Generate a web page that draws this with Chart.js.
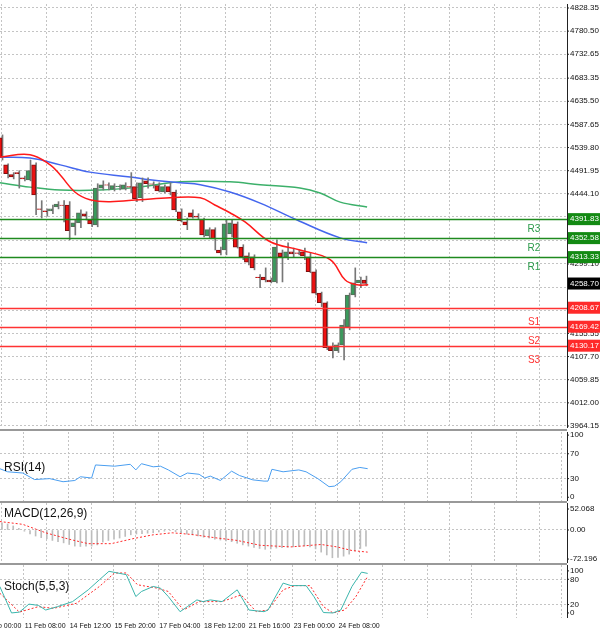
<!DOCTYPE html>
<html><head><meta charset="utf-8">
<script src="https://cdn.jsdelivr.net/npm/chart.js@4.4.0/dist/chart.umd.min.js"></script>
<style>
html,body{margin:0;padding:0;background:#fff;width:600px;height:635px;overflow:hidden;position:relative;font-family:"Liberation Sans",Arial,sans-serif}
.p{position:absolute;left:0;width:600px}
.sep{position:absolute;left:0;width:567px;height:2px;background:#999}
</style></head><body>
<div class="p" style="top:4px;height:424px"><canvas id="cMain"></canvas></div>
<div class="sep" style="top:429px"></div>
<div class="p" style="top:432px;height:69px"><canvas id="cRsi"></canvas></div>
<div class="sep" style="top:501px"></div>
<div class="p" style="top:503px;height:60px"><canvas id="cMacd"></canvas></div>
<div class="sep" style="top:563px"></div>
<div class="p" style="top:565px;height:70px"><canvas id="cSto"></canvas></div>
<script>
// ---- DATA ----
const opens  = [4560,4504,4484,4488,4477,4473,4504,4413,4409,4409,4417,4421,4421,4376,4384,4403,4390,4380,4456,4463,4454,4459,4454,4459,4459,4436,4471,4465,4461,4448,4459,4448,4407,4386,4405,4398,4392,4357,4370,4328,4328,4361,4382,4334,4316,4314,4272,4272,4266,4262,4322,4314,4324,4322,4324,4314,4283,4239,4219,4128,4120,4132,4169,4235,4260,4266];
const highs  = [4566,4506,4488,4492,4481,4514,4508,4430,4413,4421,4428,4430,4428,4390,4411,4407,4398,4465,4471,4467,4465,4463,4467,4488,4467,4477,4477,4469,4467,4463,4467,4452,4413,4394,4411,4403,4394,4374,4374,4334,4390,4390,4386,4339,4322,4318,4277,4291,4270,4349,4328,4343,4332,4328,4332,4322,4287,4241,4221,4136,4136,4184,4239,4291,4272,4274];
const lows   = [4514,4477,4475,4456,4471,4471,4401,4394,4398,4403,4413,4386,4349,4359,4374,4390,4376,4376,4452,4452,4450,4452,4452,4446,4428,4428,4456,4456,4448,4446,4442,4407,4386,4370,4394,4392,4355,4353,4328,4318,4318,4355,4332,4308,4297,4287,4250,4262,4260,4260,4262,4308,4314,4318,4308,4281,4235,4211,4122,4105,4116,4101,4163,4231,4250,4254];
const closes = [4520,4486,4479,4486,4475,4492,4442,4412,4407,4413,4423,4420,4368,4384,4405,4398,4382,4456,4463,4462,4461,4460,4463,4458,4434,4467,4465,4464,4450,4459,4448,4411,4388,4380,4396,4396,4359,4370,4351,4322,4382,4384,4334,4314,4303,4291,4271,4266,4262,4334,4314,4324,4320,4321,4316,4283,4239,4219,4126,4120,4132,4173,4235,4260,4266,4259];
const maRedX  = [-0.4,5,8.6,10.4,13,15.7,19.3,24.6,30,35.4,38,40.7,43.4,47.9,53.2,58.6,61.3,63.4,65.4];
const maRedY  = [4520,4525,4504,4483,4448,4432,4428,4432,4436,4436,4421,4405,4386,4345,4328,4308,4266,4256,4256];
const maBlueX = [-0.4,5,10.4,15.7,22.9,26.4,31.8,35.4,40.7,46.1,52.7,60.4,65.2];
const maBlueY = [4520,4518,4504,4489,4479,4473,4467,4463,4448,4425,4390,4353,4343];
const maGrnX  = [-0.4,5,10.4,17.5,24.6,31.8,40.7,46.1,53.2,56.8,60.4,65.2];
const maGrnY  = [4467,4458,4452,4452,4458,4469,4469,4463,4456,4446,4427,4417];
const levelNames  = ["R3","R2","R1","S1","S2","S3"];
const levelValues = [4391.83,4352.58,4313.33,4208.67,4169.42,4130.17];
const lastPrice = 4258.70;
const priceTicks = [3964.15,4012.00,4059.85,4107.70,4155.55,4203.40,4251.25,4299.10,4346.95,4396.80,4444.10,4491.95,4539.80,4587.65,4635.50,4683.35,4732.65,4780.50,4828.35];
const xTickPos = [-4.1,3.9,11.9,19.9,27.9,35.9,43.9,51.9,59.9,67.9,75.9,83.9,91.9,99.9];
const xTickLabels = ["10 Feb 00:00","11 Feb 08:00","14 Feb 12:00","15 Feb 20:00","17 Feb 04:00","18 Feb 12:00","21 Feb 16:00","23 Feb 00:00","24 Feb 08:00","","","","",""];
const rsiX = [-0.4,1,3.7,5.8,8.5,10.9,13,14,16,16.7,20.1,22.9,23.9,24.9,27,28.3,29.7,31.8,33.1,35.2,36.2,37.2,39,41,42.4,44.8,46.8,47.5,48.2,50.2,53,54.3,56.4,58.4,59.4,60.5,62.5,63.9,65.3];
const rsiY = [46,41,39,28.5,30,25,27,33,31,52,50,53,44,54,49,50,44,33,39,37,31,34,27,42,35,28,26,26,45,41,44,41,30,17,18,25,45,48,46];
const macdHist = [18,15,10,4,-3,-10,-15,-19,-22,-26,-29,-32,-36,-40,-41,-40,-40,-37,-30,-26,-23,-20,-16,-12,-10,-9,-8,-7,-5,-3,-2,-4,-7,-10,-12,-15,-18,-20,-23,-25,-27,-29,-33,-37,-40,-43,-46,-48,-47,-45,-44,-43,-42,-41,-40,-42,-47,-55,-62,-69,-68,-65,-60,-52,-46,-40];
const macdSigX = [-0.4,3.7,7.8,12,15.4,19.5,23.6,27,30.4,33.8,37.9,42,46.1,51.6,57,59.8,62.5,65.3];
const macdSigY = [21,14,-7,-23,-34,-34,-21,-12,-7,-11,-19,-26,-38,-42,-36,-42,-51,-55];
const stoKX = [-0.4,1.7,3.1,4.8,6.5,7.8,9.9,12.6,15.4,17.4,19.1,22.2,23.9,24.9,27,28.3,29.7,31.8,33.1,34.8,35.9,37.2,39.3,42,44.1,46.8,47.5,50.2,51.6,54.3,55.7,57.4,59.1,60.5,62.5,64.2,65.3];
const stoKY = [63,0,2,21,18,7,15,27,55,79,99,91,39,51,63,59,39,3,15,31,27,31,27,55,7,3,7,71,65,65,39,1,0,7,63,97,94];
const stoDX = [-0.4,3.1,6.5,9.2,13.3,17.4,20.1,22.2,24.2,27.7,29.7,32.4,35.2,39.3,42.7,45.4,47.5,50.2,52.3,55,57.4,59.1,61.2,63.2,65.3];
const stoDY = [47,2,15,11,23,63,95,95,67,59,51,7,27,27,43,3,7,55,65,65,15,0,7,39,87];

// ---- HELPERS ----
const XMIN=-0.36, XMAX=100.9, AXW=33;
function xScale(labelH){
  return {type:'linear',min:XMIN,max:XMAX,offset:false,
    afterBuildTicks:s=>{s.ticks=xTickPos.filter(v=>v>=XMIN).map(v=>({value:v}));},
    afterFit:s=>{s.height=labelH;},
    border:{display:false,dash:[2,2]},
    grid:{color:'#c4c4c4',lineWidth:1,drawTicks:false},
    ticks:{display:false}};
}
function yScale(min,max,ticks,gridVals){
  return {position:'right',min,max,
    afterBuildTicks:s=>{s.ticks=ticks.map(v=>({value:v}));},
    afterFit:s=>{s.width=AXW;},
    border:{display:false,dash:[2,2]},
    grid:{drawTicks:false,lineWidth:1,color:c=>gridVals.includes(c.tick&&c.tick.value)?'#c4c4c4':'rgba(0,0,0,0)'},
    ticks:{display:false}};
}
function yLabels(ticks,fmt){return {id:'yl',afterDraw(ch){
  const a=ch.chartArea,c=ch.ctx,y=ch.scales.y;c.save();c.strokeStyle='#222';c.lineWidth=1;
  c.beginPath();c.moveTo(a.right+0.5,a.top);c.lineTo(a.right+0.5,a.bottom);c.stroke();
  c.font='8px "Liberation Sans", Arial';c.fillStyle='#111';c.textAlign='left';c.textBaseline='middle';
  ticks.forEach(v=>{const py=y.getPixelForValue(v);c.fillText(fmt(v),a.right+3,py);
    c.beginPath();c.moveTo(a.right,py);c.lineTo(a.right+2,py);c.stroke();});
  c.restore();}};}
function label(text,dy){return {id:'lbl',afterDatasetsDraw(ch){const c=ch.ctx;c.save();c.font='12px "Liberation Sans", Arial';c.fillStyle='#111';c.textBaseline='middle';c.fillText(text,4,ch.chartArea.top+dy);c.restore();}};}
const xLabels={id:'xl',afterDraw(ch){const c=ch.ctx,x=ch.scales.x,a=ch.chartArea;c.save();c.font='7px "Liberation Sans", Arial';c.fillStyle='#111';c.textBaseline='top';c.textAlign='left';
  xTickPos.forEach((v,i)=>{if(xTickLabels[i])c.fillText(xTickLabels[i],x.getPixelForValue(v)+1,a.bottom+5);});c.restore();}};
const pts=(xs,ys)=>xs.map((x,i)=>({x,y:ys[i]}));
const common={responsive:true,maintainAspectRatio:false,animation:false,events:[],
  layout:{padding:0,autoPadding:false},plugins:{legend:{display:false},tooltip:{enabled:false}}};

// ---- MAIN ----
const up=closes.map((c,i)=>c>=opens[i]);
const levelsPlugin={id:'levels',afterDraw(ch){
  const c=ch.ctx,a=ch.chartArea,y=ch.scales.y;c.save();
  levelValues.forEach((v,i)=>{
    const isR=levelNames[i][0]==='R';const py=Math.round(y.getPixelForValue(v))+0.5;
    c.strokeStyle=isR?'#1f8a1f':'#ff3333';c.lineWidth=1.5;
    c.beginPath();c.moveTo(a.left,py);c.lineTo(a.right,py);c.stroke();
    c.font='10px "Liberation Sans", Arial';c.fillStyle=isR?'#2a9a4a':'#ff3333';c.textAlign='center';c.textBaseline='middle';
    c.fillText(levelNames[i],a.right-33,py+(i<3?10:14));
  });
  const tag=(v,bg)=>{const py=y.getPixelForValue(v);c.fillStyle=bg;c.fillRect(a.right+1,py-6,32,12);
    c.fillStyle='#fff';c.font='8px "Liberation Sans", Arial';c.textAlign='left';c.textBaseline='middle';c.fillText(v.toFixed(2),a.right+3,py);};
  levelValues.forEach((v,i)=>tag(v,levelNames[i][0]==='R'?'#138a13':'#ff2a2a'));
  tag(lastPrice,'#000');
  c.restore();}};
new Chart(document.getElementById('cMain'),{type:'bar',
  data:{datasets:[
    {type:'line',data:pts(maGrnX,maGrnY),borderColor:'#3cb06a',borderWidth:1.5,pointRadius:0,tension:0.4,order:5},
    {type:'line',data:pts(maBlueX,maBlueY),borderColor:'#4466ee',borderWidth:1.5,pointRadius:0,tension:0.4,order:4},
    {data:lows.map((l,i)=>({x:i,y:[l,highs[i]]})),backgroundColor:'#777',barThickness:1,order:3},
    {data:opens.map((o,i)=>({x:i,y:[Math.min(o,closes[i]),Math.max(o,closes[i])+(Math.abs(o-closes[i])<1?1:0)]})),
     backgroundColor:up.map(u=>u?'#3a9a5c':'#ee1111'),borderColor:up.map(u=>u?'#5a6a5a':'#7a1010'),borderWidth:1,borderSkipped:false,barThickness:4,order:2},
    {type:'line',data:pts(maRedX,maRedY),borderColor:'#ff1a1a',borderWidth:1.5,pointRadius:0,tension:0.4,order:1}
  ]},
  options:{...common,scales:{x:xScale(0),y:yScale(3960,4836.6,priceTicks,priceTicks)}},
  plugins:[yLabels(priceTicks,v=>v.toFixed(2)),levelsPlugin]});

// ---- RSI ----
new Chart(document.getElementById('cRsi'),{type:'line',
  data:{datasets:[{data:pts(rsiX,rsiY),borderColor:'#4a9ef0',borderWidth:1,pointRadius:0}]},
  options:{...common,scales:{x:xScale(0),y:yScale(-6,105,[0,30,70,100],[30,70])}},
  plugins:[yLabels([0,30,70,100],v=>String(v)),label('RSI(14)',36)]});

// ---- MACD ----
new Chart(document.getElementById('cMacd'),{type:'bar',
  data:{datasets:[
    {type:'line',data:pts(macdSigX,macdSigY),borderColor:'#ff2a2a',borderWidth:1,borderDash:[2,2],pointRadius:0,order:1},
    {data:macdHist.map((v,i)=>({x:i,y:[0,v]})),backgroundColor:'#bdbdbd',barThickness:1,order:2}]},
  options:{...common,scales:{x:xScale(0),y:yScale(-82,67,[-72.196,0,52.068],[0])}},
  plugins:[yLabels([-72.196,0,52.068],v=>v===0?'0.00':v.toFixed(3)),label('MACD(12,26,9)',11)]});

// ---- STOCH ----
new Chart(document.getElementById('cSto'),{type:'line',
  data:{datasets:[
    {data:pts(stoDX,stoDY),borderColor:'#ff2a2a',borderWidth:1,borderDash:[2,2],pointRadius:0,order:2},
    {data:pts(stoKX,stoKY),borderColor:'#3bb5ac',borderWidth:1,pointRadius:0,order:1}]},
  options:{...common,scales:{x:xScale(17),y:yScale(-12,114,[0,20,80,100],[20,80])}},
  plugins:[yLabels([0,20,80,100],v=>String(v)),xLabels,label('Stoch(5,5,3)',22)]});
</script></body></html>
